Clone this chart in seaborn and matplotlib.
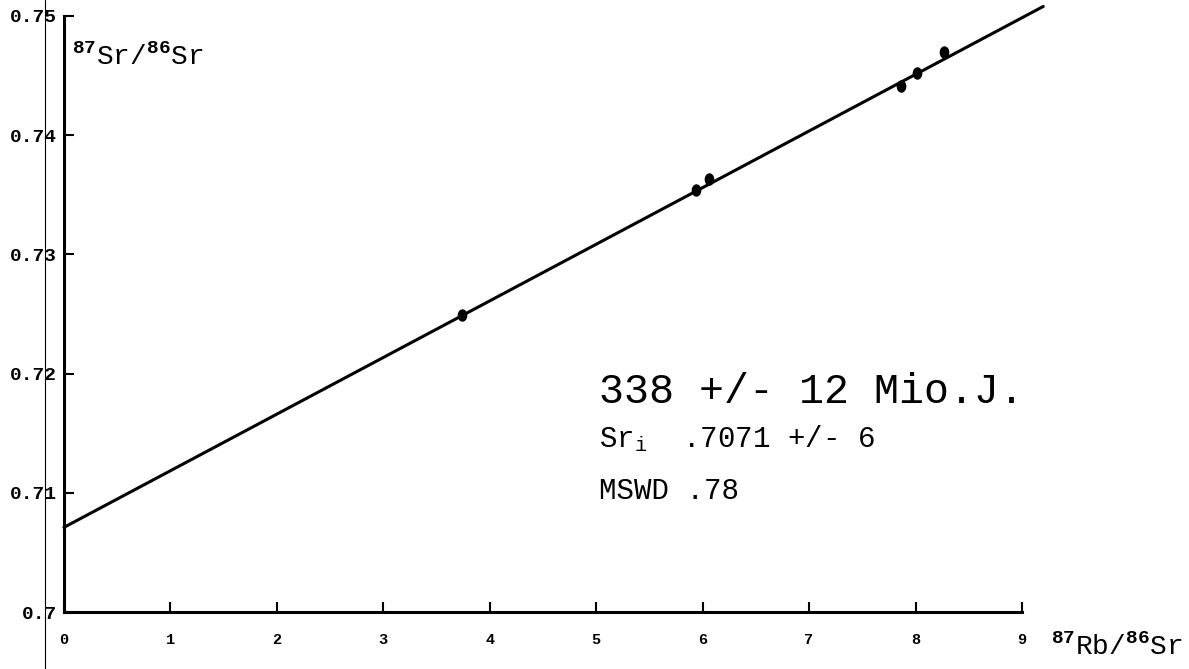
# Rb-Sr Isochrone (338 Mio.J.)

import numpy as np
import pandas as pd
import matplotlib
matplotlib.use("Agg")
import matplotlib.pyplot as plt
from matplotlib.lines import Line2D
import seaborn as sns

# Messpunkte
rb_sr = [3.74, 5.94, 6.06, 7.86, 8.01, 8.27]
sr_sr = [0.7249, 0.7354, 0.7363, 0.7441, 0.7452, 0.7470]

# Isochrone (Ausgleichsgerade)
iso_x = [0.0, 9.2]
iso_y = [0.7071, 0.7508]

x_ticks = [0, 1, 2, 3, 4, 5, 6, 7, 8, 9]
y_ticks = [0.70, 0.71, 0.72, 0.73, 0.74, 0.75]
y_labels = ["0.7", "0.71", "0.72", "0.73", "0.74", "0.75"]

age_text = "338 +/- 12 Mio.J."
sri_text = r"Sr$_{\mathrm{i}}$  .7071 +/- 6"
mswd_text = "MSWD .78"

sns.set_style("ticks")
plt.rcParams['font.family'] = ['Liberation Mono', 'DejaVu Sans']
plt.rcParams['mathtext.fontset'] = 'custom'
plt.rcParams['mathtext.rm'] = 'Liberation Mono'
plt.rcParams['mathtext.it'] = 'Liberation Mono'
plt.rcParams['mathtext.bf'] = 'Liberation Mono:bold'
for k in ['text.color', 'axes.edgecolor', 'xtick.color', 'ytick.color',
          'axes.labelcolor']:
    plt.rcParams[k] = 'black'

df = pd.DataFrame({"rb": rb_sr, "sr": sr_sr})
iso = pd.DataFrame({"x": iso_x, "y": iso_y})

fig = plt.figure(figsize=(11.89, 6.69), dpi=100)
ax = fig.add_axes([0.0538, 0.0852, 0.8057, 0.8909])

sns.lineplot(data=iso, x="x", y="y", color="black", linewidth=2.2, ax=ax)
for l in ax.lines:
    l.set_clip_on(False)

# leicht hochgestellte Ellipse als Punktsymbol
t = np.linspace(0, 2 * np.pi, 40)
ell = list(zip(0.78 * np.cos(t), np.sin(t)))
sns.scatterplot(data=df, x="rb", y="sr", color="black", s=80, marker=ell,
                edgecolor="black", linewidth=0, ax=ax, clip_on=False, zorder=3)

ax.set_xlim(0, 9)
ax.set_ylim(0.70, 0.75)
ax.set_xticks(x_ticks)
ax.set_xticklabels([str(t) for t in x_ticks], fontsize=11, fontweight="bold")
ax.set_yticks(y_ticks)
ax.set_yticklabels(y_labels, fontsize=14, fontweight="bold")
ax.tick_params(axis="both", direction="in", length=7, width=1.5)
ax.tick_params(axis="x", pad=15)
ax.tick_params(axis="y", pad=5)
ax.set_xlabel("")
ax.set_ylabel("")

sns.despine(ax=ax)
for s in ["left", "bottom"]:
    ax.spines[s].set_linewidth(2.2)

# Achsenbeschriftungen
ax.text(0.0084, 0.9178, r"$^{\mathbf{87}}$Sr/$^{\mathbf{86}}$Sr", transform=ax.transAxes,
        fontsize=20, ha="left", va="baseline")
ax.text(1.0303, -0.0721, r"$^{\mathbf{87}}$Rb/$^{\mathbf{86}}$Sr", transform=ax.transAxes,
        fontsize=20, ha="left", va="baseline")

# Ergebnisse
ax.text(0.559, 0.3507, age_text, transform=ax.transAxes, fontsize=30,
        ha="left", va="baseline")
ax.text(0.559, 0.2768, sri_text, transform=ax.transAxes, fontsize=21,
        ha="left", va="baseline")
ax.text(0.559, 0.1896, mswd_text, transform=ax.transAxes, fontsize=21,
        ha="left", va="baseline")

# duenne Linie vom Scan
fig.add_artist(Line2D([0.038, 0.038], [0, 1], color="black", linewidth=0.8,
                      transform=fig.transFigure))

fig.savefig("out.png", dpi=100, facecolor="white")
